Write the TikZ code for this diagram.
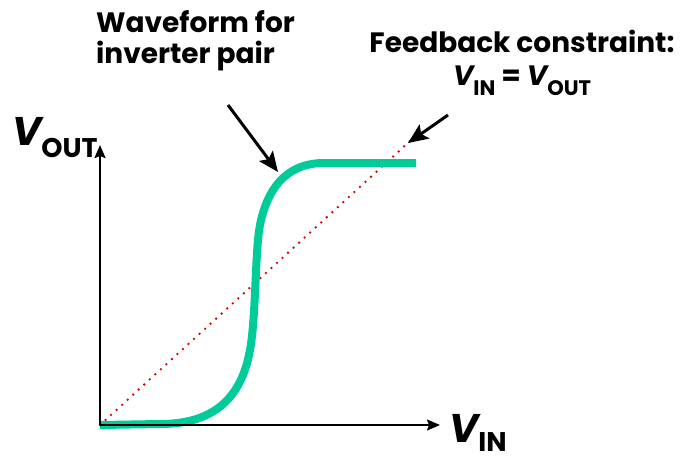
\documentclass[tikz,border=0pt]{standalone}
\usepackage{fontspec}
\setmainfont{Poppins}
\usetikzlibrary{arrows.meta}
\definecolor{curvegreen}{RGB}{0,204,153}
\definecolor{dotred}{RGB}{210,0,0}
\newcommand{\volt}[4]{{\fontsize{#1}{#1}\selectfont\itshape V}{\fontsize{#2}{#2}\selectfont\raisebox{-#3}{#4}}}
\tikzset{
  axisline/.style={
    line width=2pt,
    -{Stealth[length=13pt, width=11pt, inset=2pt]}
  },
  pointer/.style={
    line width=3pt,
    -{Stealth[length=20pt, width=17pt, inset=4pt]}
  },
  waveline/.style={
    line width=8pt,
    draw=curvegreen,
    line join=round
  },
  constraintline/.style={
    line width=2.6pt,
    draw=dotred,
    line cap=round,
    dash pattern=on 0pt off 7.5pt
  },
  labeltext/.style={
    inner sep=0pt,
    font=\bfseries\fontsize{28pt}{31pt}\selectfont
  }
}

\begin{document}
\begin{tikzpicture}[x=1pt, y=-1pt]
  \useasboundingbox (0,0) rectangle (687,461);

  \coordinate (origin) at (100,425);
  \coordinate (ytip) at (100,145);
  \coordinate (xtip) at (440,425);
  \coordinate (diagend) at (410,141);
  \coordinate (wavetail) at (228,105);
  \coordinate (wavetip) at (278,172);
  \coordinate (fbtail) at (448,115);
  \coordinate (fbtip) at (408,143);

  \node[labeltext, anchor=north west, align=left] (wave) at (96,10)
    {Waveform for\\inverter pair};
  \node[labeltext, anchor=north, align=center] (feedback) at (522,30)
    {Feedback constraint:\\[2pt]\volt{28pt}{21pt}{10pt}{IN} = \volt{28pt}{21pt}{10pt}{OUT}};
  \node[inner sep=0pt, anchor=base west, font=\bfseries] (vout) at (12,145)
    {\volt{40pt}{27pt}{12pt}{OUT}};
  \node[inner sep=0pt, anchor=base west, font=\bfseries] (vin) at (449,442)
    {\volt{40pt}{27pt}{9pt}{IN}};

  \draw[constraintline] (origin) -- (diagend);
  \draw[waveline] (origin) -- (160,424)
    .. controls (212,424) and (241,400) .. (250,350)
    .. controls (256,318) and (255,250) .. (260,225)
    .. controls (267,190) and (285,164) .. (322,163)
    -- (416,163);

  \draw[axisline] (origin) -- (ytip);
  \draw[axisline] (origin) -- (xtip);

  \draw[pointer] (wavetail) -- (wavetip);
  \draw[pointer] (fbtail) -- (fbtip);
\end{tikzpicture}
\end{document}
